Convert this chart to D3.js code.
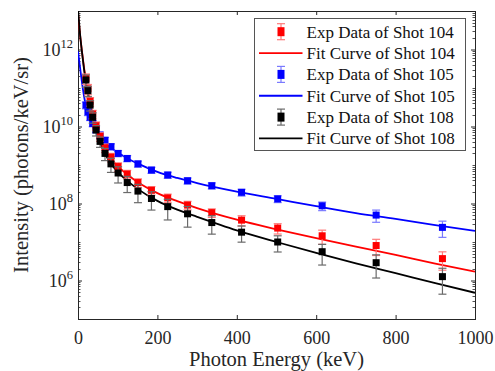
<!DOCTYPE html>
<html>
<head>
<meta charset="utf-8">
<script src="https://cdn.jsdelivr.net/npm/d3@7"></script>
<style>
  html, body { margin: 0; padding: 0; background: #fff; }
  svg { display: block; }
  svg text { font-family: "Liberation Serif", "Times New Roman", Times, "DejaVu Serif", serif !important; }
</style>
</head>
<body>
<svg id="chart" width="495" height="371"></svg>
<script>
// Photon energy bins (keV) shared by all shots
const energy = [20, 25, 30.5, 37, 45.5, 55.5, 68, 83, 101, 124, 151, 185, 226, 276, 337, 412, 503, 615, 751, 918];

// Measured intensities (photons/keV/sr)
const shot104 = [1.78e11, 9.5e10, 4.5e10, 2.1e10, 1.05e10, 5.5e9, 2.8e9, 1.6e9, 9.1e8, 5.8e8, 3.5e8, 2.2e8, 1.4e8, 9.1e7, 5.8e7, 3.7e7, 2.3e7, 1.45e7, 8.1e6, 3.7e6];
const shot105 = [3.6e10, 2.4e10, 1.74e10, 1.2e10, 8.3e9, 6.0e9, 4.4e9, 3.0e9, 2.0e9, 1.48e9, 1.07e9, 7.4e8, 5.5e8, 3.9e8, 2.9e8, 1.95e8, 1.32e8, 8.7e7, 5.0e7, 2.4e7];
const shot108 = [1.62e11, 8.5e10, 3.6e10, 1.74e10, 8.1e9, 4.1e9, 2.0e9, 1.07e9, 6.2e8, 3.5e8, 2.1e8, 1.35e8, 8.3e7, 5.4e7, 3.2e7, 1.8e7, 1.0e7, 5.6e6, 2.9e6, 1.26e6];

// Relative uncertainties of the measurements
const err104 = [0.3, 0.3, 0.25, 0.25, 0.25, 0.25, 0.25, 0.25, 0.25, 0.25, 0.25, 0.25, 0.25, 0.25, 0.25, 0.3, 0.3, 0.4, 0.45, 0.5];
const err105 = [0.2, 0.2, 0.18, 0.18, 0.18, 0.18, 0.18, 0.18, 0.18, 0.18, 0.18, 0.18, 0.18, 0.18, 0.18, 0.2, 0.2, 0.25, 0.35, 0.45];
const err108 = [0.35, 0.3, 0.3, 0.3, 0.3, 0.3, 0.35, 0.4, 0.45, 0.45, 0.5, 0.5, 0.55, 0.55, 0.5, 0.45, 0.45, 0.55, 0.6, 0.65];

// Fitted spectra sampled along the energy axis
const fitEnergy = [0, 5, 10, 15, 20, 25, 30, 40, 50, 60, 80, 100, 125, 150, 200, 250, 300, 400, 500, 600, 700, 800, 900, 1000];
const fit104 = [8.9e12, 2.5e12, 8.9e11, 3.5e11, 1.6e11, 8.3e10, 4.5e10, 1.6e10, 7.4e9, 4.0e9, 1.66e9, 9.3e8, 5.6e8, 3.6e8, 1.86e8, 1.15e8, 7.6e7, 3.8e7, 2.14e7, 1.26e7, 7.6e6, 4.6e6, 2.75e6, 1.7e6];
const fit105 = [8.9e11, 3.5e11, 1.4e11, 6.3e10, 3.5e10, 2.4e10, 1.74e10, 9.5e9, 6.3e9, 4.6e9, 2.95e9, 2.1e9, 1.48e9, 1.1e9, 6.6e8, 4.6e8, 3.4e8, 2.04e8, 1.32e8, 8.5e7, 5.6e7, 4.0e7, 2.75e7, 1.95e7];
const fit108 = [1.1e13, 2.6e12, 8.5e11, 3.2e11, 1.4e11, 7.1e10, 3.7e10, 1.26e10, 5.6e9, 2.95e9, 1.2e9, 6.6e8, 3.8e8, 2.4e8, 1.17e8, 6.9e7, 4.5e7, 2.0e7, 1.0e7, 5.2e6, 2.8e6, 1.55e6, 8.5e5, 4.8e5];

// Axis ticks
const xTicks = [0, 200, 400, 600, 800, 1000];
const yTickExponents = [6, 8, 10, 12];

const legendLabels = ["Exp Data of Shot 104", "Fit Curve of Shot 104", "Exp Data of Shot 105", "Fit Curve of Shot 105", "Exp Data of Shot 108", "Fit Curve of Shot 108"];

const series = [
  { values: shot104, err: err104, fit: fit104, color: "#ff0000", errColor: "#ff7a7a" },
  { values: shot105, err: err105, fit: fit105, color: "#0000ff", errColor: "#7a7aff" },
  { values: shot108, err: err108, fit: fit108, color: "#000000", errColor: "#6a6a6a" }
];

const FONT = "Liberation Serif, Times New Roman, DejaVu Serif, serif";
const svg = d3.select("#chart");
const m = { left: 78, top: 11, right: 20, bottom: 52 };
const W = 495 - m.left - m.right;
const H = 371 - m.top - m.bottom;
const axisColor = "#262626";

const x = d3.scaleLinear().domain([0, 1000]).range([0, W]);
const y = d3.scaleLog().domain([1e5, 1e13]).range([H, 0]);

const g = svg.append("g").attr("transform", `translate(${m.left},${m.top})`);

svg.append("defs").append("clipPath").attr("id", "plotClip")
  .append("rect").attr("x", 0).attr("y", 0).attr("width", W).attr("height", H);

// Minor log ticks on left and right sides
const minorTicks = [];
for (let e = 5; e < 13; e++) for (let k = 1; k <= 9; k++) {
  const v = k * Math.pow(10, e);
  if (!(k === 1 && yTickExponents.includes(e))) minorTicks.push(v);
}
const tickG = g.append("g").attr("stroke", axisColor).attr("stroke-width", 0.8);
minorTicks.forEach(v => {
  const yy = Math.round(y(v)) + 0.5;
  tickG.append("line").attr("x1", 0).attr("x2", 2.5).attr("y1", yy).attr("y2", yy);
  tickG.append("line").attr("x1", W).attr("x2", W - 2.5).attr("y1", yy).attr("y2", yy);
});

// Bottom axis
const xAxis = d3.axisBottom(x).tickValues(xTicks).tickSizeInner(-4).tickSizeOuter(0).tickPadding(12).tickFormat(d3.format("d"));
const xg = g.append("g").attr("transform", `translate(0,${H})`).call(xAxis);
// Top axis (ticks only)
const xg2 = g.append("g").call(d3.axisTop(x).tickValues(xTicks).tickSizeInner(-4).tickSizeOuter(0).tickFormat(""));
// Left axis
const yAxis = d3.axisLeft(y).tickValues(yTickExponents.map(e => Math.pow(10, e))).tickSizeInner(-4).tickSizeOuter(0).tickFormat("");
const yg = g.append("g").call(yAxis);
// Right axis (ticks only)
const yg2 = g.append("g").attr("transform", `translate(${W},0)`).call(d3.axisRight(y).tickValues(yTickExponents.map(e => Math.pow(10, e))).tickSizeInner(-4).tickSizeOuter(0).tickFormat(""));

[xg, xg2, yg, yg2].forEach(a => {
  a.attr("font-family", FONT).attr("font-size", 18);
  a.select(".domain").remove();
  a.selectAll("line").attr("stroke", axisColor);
  a.selectAll("text").attr("fill", axisColor);
});

// Frame
g.append("rect").attr("x", 0.5).attr("y", 0.5).attr("width", W).attr("height", H)
  .attr("fill", "none").attr("stroke", axisColor).attr("stroke-width", 1);

// Y tick labels as powers of ten
yTickExponents.forEach(e => {
  const t = g.append("text").attr("x", -5).attr("y", y(Math.pow(10, e)) + 6)
    .attr("text-anchor", "end").attr("fill", axisColor)
    .attr("font-family", FONT).attr("font-size", 18);
  t.append("tspan").text("10");
  t.append("tspan").attr("dy", -8).attr("font-size", 12.5).text(String(e));
});

// Axis titles
svg.append("text").attr("x", m.left + W / 2).attr("y", 366).attr("text-anchor", "middle")
  .attr("fill", axisColor).attr("font-family", FONT).attr("font-size", 20.5).text("Photon Energy (keV)");
svg.append("text").attr("transform", `translate(28,${m.top + H / 2}) rotate(-90)`).attr("text-anchor", "middle")
  .attr("fill", axisColor).attr("font-family", FONT).attr("font-size", 20.5).text("Intensity (photons/keV/sr)");

const plot = g.append("g").attr("clip-path", "url(#plotClip)");

const line = d3.line().x(d => x(d[0])).y(d => y(d[1])).curve(d3.curveMonotoneX);

// Fit curves
series.forEach(s => {
  plot.append("path").datum(fitEnergy.map((e, i) => [e, s.fit[i]]))
    .attr("fill", "none").attr("stroke", s.color).attr("stroke-width", 1.8).attr("d", line);
});

// Error bars and markers (shot 105 first, then 104, then 108 on top)
const ms = 7;
const drawErr = (sel, cx, y1, y2, color) => {
  sel.append("line").attr("x1", cx).attr("x2", cx).attr("y1", y1).attr("y2", y2).attr("stroke", color).attr("stroke-width", 1.2);
  sel.append("line").attr("x1", cx - 4).attr("x2", cx + 4).attr("y1", y1).attr("y2", y1).attr("stroke", color).attr("stroke-width", 1.2);
  sel.append("line").attr("x1", cx - 4).attr("x2", cx + 4).attr("y1", y2).attr("y2", y2).attr("stroke", color).attr("stroke-width", 1.2);
};
[series[1], series[0], series[2]].forEach(s => {
  const sg = plot.append("g");
  energy.forEach((e, i) => {
    const v = s.values[i], f = s.err[i];
    drawErr(sg, x(e), y(v * (1 + f)), y(v * (1 - f)), s.errColor);
  });
  sg.selectAll("rect").data(energy.map((e, i) => [e, s.values[i]])).join("rect")
    .attr("x", d => x(d[0]) - ms / 2).attr("y", d => y(d[1]) - ms / 2)
    .attr("width", ms).attr("height", ms).attr("fill", s.color);
});

// Legend
const lg = svg.append("g").attr("transform", "translate(254.5,18.5)");
lg.append("rect").attr("width", 211).attr("height", 132).attr("fill", "#fff").attr("stroke", "#555").attr("stroke-width", 1);
legendLabels.forEach((label, i) => {
  const s = series[Math.floor(i / 2)];
  const cy = 13.2 + i * 21.35;
  if (i % 2 === 0) {
    drawErr(lg, 26.5, cy - 8, cy + 8, s.errColor);
    lg.append("rect").attr("x", 26.5 - 3.5).attr("y", cy - 4.5).attr("width", 7).attr("height", 9).attr("fill", s.color);
  } else {
    lg.append("line").attr("x1", 4.5).attr("x2", 48).attr("y1", cy).attr("y2", cy).attr("stroke", s.color).attr("stroke-width", 1.8);
  }
  lg.append("text").attr("x", 52).attr("y", cy + 6).attr("fill", "#111")
    .attr("font-family", FONT).attr("font-size", 17).text(label);
});
</script>
</body>
</html>
